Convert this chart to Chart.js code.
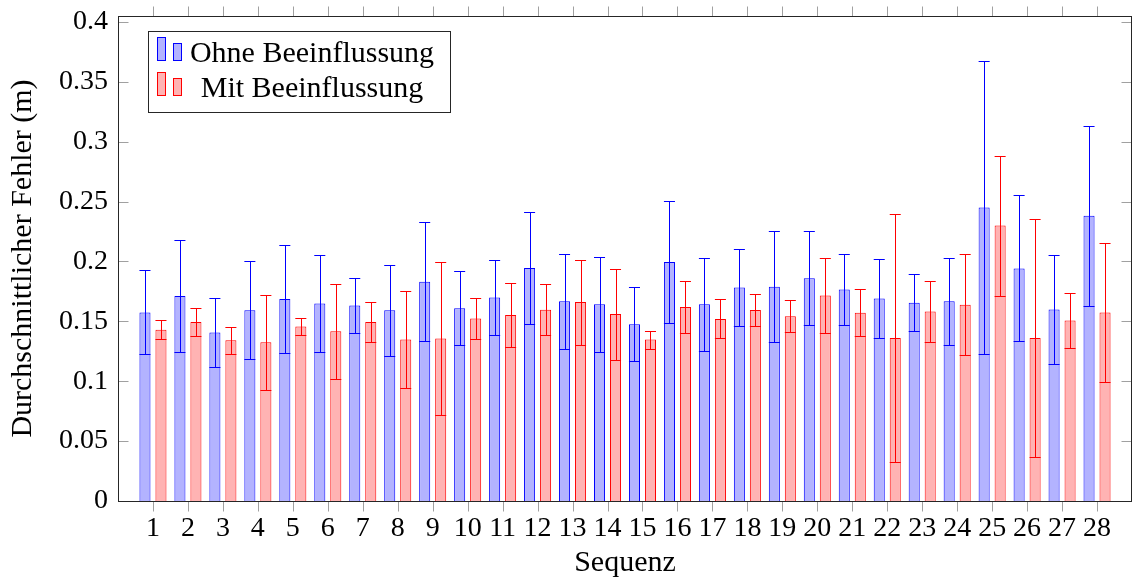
<!DOCTYPE html>
<html>
<head>
<meta charset="utf-8">
<script src="https://cdn.jsdelivr.net/npm/chart.js@4/dist/chart.umd.min.js"></script>
<style>
  html, body { margin: 0; padding: 0; background: #fff; }
  #wrap { width: 1134px; height: 581px; }
</style>
</head>
<body>
<div id="wrap"><canvas id="c" width="1134" height="581"></canvas></div>
<script>
const categories = ['1','2','3','4','5','6','7','8','9','10','11','12','13','14','15','16','17','18','19','20','21','22','23','24','25','26','27','28'];

const ohneMean = [0.1575,0.1711,0.1408,0.1592,0.1687,0.1650,0.1633,0.1592,0.1831,0.1610,0.1700,0.1945,0.1667,0.1642,0.1475,0.1995,0.1642,0.1783,0.1789,0.1861,0.1767,0.1692,0.1656,0.1667,0.2450,0.1942,0.1600,0.2381];
const ohneErr  = [0.0350,0.0470,0.0285,0.0410,0.0447,0.0407,0.0226,0.0380,0.0497,0.0310,0.0313,0.0468,0.0397,0.0394,0.0310,0.0507,0.0388,0.0321,0.0464,0.0390,0.0297,0.0330,0.0236,0.0365,0.1223,0.0610,0.0454,0.0751];

const mitMean  = [0.1431,0.1495,0.1342,0.1325,0.1458,0.1417,0.1495,0.1348,0.1356,0.1525,0.1553,0.1598,0.1661,0.1561,0.1348,0.1620,0.1520,0.1595,0.1543,0.1717,0.1572,0.1361,0.1583,0.1639,0.2300,0.1361,0.1508,0.1575];
const mitErr   = [0.0078,0.0114,0.0114,0.0395,0.0070,0.0396,0.0168,0.0405,0.0640,0.0172,0.0270,0.0210,0.0355,0.0380,0.0075,0.0220,0.0163,0.0134,0.0133,0.0310,0.0197,0.1032,0.0253,0.0420,0.0585,0.0996,0.0228,0.0583];

const seriesNames = ['Ohne Beeinflussung', 'Mit Beeinflussung'];
const yTickStep = 0.05;
const yMax = 0.405;

const FONT = "'Liberation Serif', 'Times New Roman', serif";

// padded label list: one empty slot on each side (pgfplots-like enlarged limits)
const xLabels = [''].concat(categories, ['']);
const pad = arr => [null].concat(arr, [null]);

const errorBars = {
  id: 'errorBars',
  afterDatasetsDraw(chart) {
    const ctx = chart.ctx;
    const y = chart.scales.y;
    chart.data.datasets.forEach((ds, di) => {
      const meta = chart.getDatasetMeta(di);
      ctx.save();
      ctx.strokeStyle = ds.borderColor;
      ctx.lineWidth = 1;
      meta.data.forEach((bar, i) => {
        const m = ds.data[i], e = ds.errors[i];
        if (m == null || e == null) return;
        const yt = Math.round(y.getPixelForValue(m + e)) + 0.5;
        const yb = Math.round(y.getPixelForValue(m - e)) + 0.5;
        const xc = Math.round(bar.x) + 0.5;
        const hw = bar.width / 2;
        ctx.beginPath();
        ctx.moveTo(xc, yt); ctx.lineTo(xc, yb);
        ctx.moveTo(bar.x - hw, yt); ctx.lineTo(bar.x + hw, yt);
        ctx.moveTo(bar.x - hw, yb); ctx.lineTo(bar.x + hw, yb);
        ctx.stroke();
      });
      ctx.restore();
    });
  }
};

const frameAndTicks = {
  id: 'frameAndTicks',
  afterDatasetsDraw(chart) {
    const ctx = chart.ctx;
    const a = chart.chartArea;
    const xs = chart.scales.x, ys = chart.scales.y;
    const L = Math.round(a.left) + 0.5, R = Math.round(a.right) - 0.5;
    const T = Math.round(a.top) + 0.5, B = Math.round(a.bottom) + 0.5;
    ctx.save();
    ctx.strokeStyle = '#a0a0a0';
    ctx.lineWidth = 1;
    ctx.beginPath();
    for (let i = 1; i <= categories.length; i++) {
      const px = Math.round(xs.getPixelForValue(i)) + 0.5;
      ctx.moveTo(px, B); ctx.lineTo(px, B + 10);
      ctx.moveTo(px, T); ctx.lineTo(px, T - 10);
    }
    ys.ticks.forEach(t => {
      const py = Math.round(ys.getPixelForValue(t.value)) + 0.5;
      ctx.moveTo(L, py); ctx.lineTo(L + 10, py);
      ctx.moveTo(R, py); ctx.lineTo(R - 10, py);
    });
    ctx.stroke();
    ctx.strokeStyle = '#262626';
    ctx.strokeRect(L, T, R - L, B - T);
    ctx.restore();
  }
};

const customLegend = {
  id: 'customLegend',
  afterDraw(chart) {
    const ctx = chart.ctx;
    ctx.save();
    ctx.fillStyle = '#fff';
    ctx.strokeStyle = '#262626';
    ctx.lineWidth = 1;
    ctx.fillRect(148.5, 31.5, 302, 81);
    ctx.strokeRect(148.5, 31.5, 302, 81);
    const rows = [62, 97];
    chart.data.datasets.forEach((ds, i) => {
      const base = rows[i];
      ctx.fillStyle = ds.backgroundColor;
      ctx.strokeStyle = ds.borderColor;
      ctx.fillRect(157.5, base - 24.5, 8, 23);
      ctx.strokeRect(157.5, base - 24.5, 8, 23);
      ctx.fillRect(173.5, base - 18.5, 8, 17);
      ctx.strokeRect(173.5, base - 18.5, 8, 17);
      ctx.fillStyle = '#000';
      ctx.font = '30px ' + FONT;
      ctx.textAlign = 'center';
      ctx.textBaseline = 'alphabetic';
      ctx.fillText(ds.label, 312, base);
    });
    ctx.restore();
  }
};

new Chart(document.getElementById('c'), {
  type: 'bar',
  data: {
    labels: xLabels,
    datasets: [
      { label: seriesNames[0], data: pad(ohneMean), errors: pad(ohneErr),
        backgroundColor: 'rgb(179,179,255)', borderColor: 'rgb(0,0,255)', borderWidth: 1,
        categoryPercentage: 0.915, barPercentage: 0.69 },
      { label: seriesNames[1], data: pad(mitMean), errors: pad(mitErr),
        backgroundColor: 'rgb(255,179,179)', borderColor: 'rgb(255,0,0)', borderWidth: 1,
        categoryPercentage: 0.915, barPercentage: 0.69 }
    ]
  },
  options: {
    responsive: false,
    animation: false,
    devicePixelRatio: 1,
    layout: { padding: { top: 16, right: 2, left: 0, bottom: 0 } },
    plugins: { legend: { display: false }, tooltip: { enabled: false } },
    scales: {
      x: {
        type: 'category',
        offset: false,
        grid: { display: false, drawTicks: false },
        border: { display: false },
        ticks: { autoSkip: false, maxRotation: 0, minRotation: 0, padding: 11, color: '#000',
                 font: { family: FONT, size: 28 } },
        title: { display: true, text: 'Sequenz', color: '#000', padding: { top: 0, bottom: 0 },
                 font: { family: FONT, size: 30 } },
        afterFit(s) { s.height = 80; s.paddingLeft = 0; s.paddingRight = 0; }
      },
      y: {
        min: 0, max: yMax,
        grid: { display: false, drawTicks: false },
        border: { display: false },
        ticks: { stepSize: yTickStep, includeBounds: false, padding: 10, color: '#000',
                 font: { family: FONT, size: 28 },
                 callback: v => String(Number(v.toFixed(2))) },
        title: { display: true, text: 'Durchschnittlicher Fehler (m)', color: '#000',
                 padding: { top: 5, bottom: 0 }, font: { family: FONT, size: 30 } },
        afterFit(s) { s.width = 118; s.paddingTop = 0; s.paddingBottom = 0; }
      }
    }
  },
  plugins: [errorBars, frameAndTicks, customLegend]
});
</script>
</body>
</html>
